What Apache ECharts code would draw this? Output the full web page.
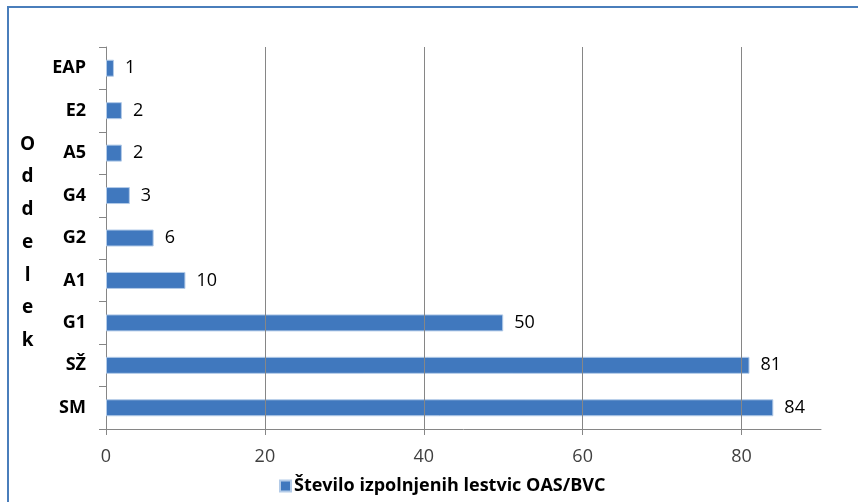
<!DOCTYPE html>
<html>
<head>
<meta charset="utf-8">
<script src="https://cdn.jsdelivr.net/npm/echarts@6/dist/echarts.min.js"></script>
<style>html,body{margin:0;padding:0;background:#fff}#c{width:858px;height:502px}</style>
</head>
<body>
<div id="c"></div>
<script>
var categories = ['SM', 'SŽ', 'G1', 'A1', 'G2', 'G4', 'A5', 'E2', 'EAP'];
var values = [84, 81, 50, 10, 6, 3, 2, 2, 1];
var seriesName = 'Število izpolnjenih lestvic OAS/BVC';
var axisTitle = 'O\nd\nd\ne\nl\ne\nk';
var xTicks = [0, 20, 40, 60, 80];

var font = '"Open Sans", Lato, sans-serif';
var chart = echarts.init(document.getElementById('c'));
chart.setOption({
  animation: false,
  graphic: [
    {type: 'rect', shape: {x: 8, y: 7, width: 900, height: 600},
     style: {fill: 'none', stroke: '#4a7ebb', lineWidth: 2}, z: 100},
    {type: 'text', left: 20, top: 128, z: 100,
     style: {text: axisTitle, font: 'bold 19px ' + font, fill: '#000', lineHeight: 32.7, textAlign: 'center'}}
  ],
  legend: {
    left: 274, top: 472, itemWidth: 11, itemHeight: 11, itemGap: 4,
    icon: 'rect',
    textStyle: {fontFamily: font, fontWeight: 'bold', fontSize: 18, color: '#000', padding: [0, 0, 0, -2]},
    data: [seriesName]
  },
  grid: {left: 106, right: 37, top: 47, bottom: 73},
  xAxis: {
    type: 'value', min: 0, max: 90, interval: 10,
    axisLine: {show: true, lineStyle: {color: '#868686'}},
    axisTick: {show: true, length: 6, customValues: xTicks, lineStyle: {color: '#868686'}},
    axisLabel: {fontFamily: font, fontSize: 18, color: '#404040', margin: 19, customValues: xTicks},
    splitLine: {show: false}
  },
  yAxis: {
    type: 'category', data: categories,
    axisLine: {show: true, lineStyle: {color: '#868686'}},
    axisTick: {show: true, length: 7, lineStyle: {color: '#868686'}},
    axisLabel: {fontFamily: font, fontSize: 18, fontWeight: 'bold', color: '#000', margin: 20}
  },
  series: [{
    name: seriesName, type: 'bar', data: values, barWidth: 17,
    itemStyle: {color: '#4078BE', borderColor: '#b3cbe8', borderWidth: 1},
    label: {show: true, position: 'right', distance: 11, fontFamily: font, fontSize: 18, color: '#000'},
    markLine: {
      silent: true, symbol: 'none', label: {show: false},
      lineStyle: {color: '#868686', type: 'solid', width: 1},
      data: [{xAxis: 20}, {xAxis: 40}, {xAxis: 60}, {xAxis: 80}]
    }
  }]
});
</script>
</body>
</html>
